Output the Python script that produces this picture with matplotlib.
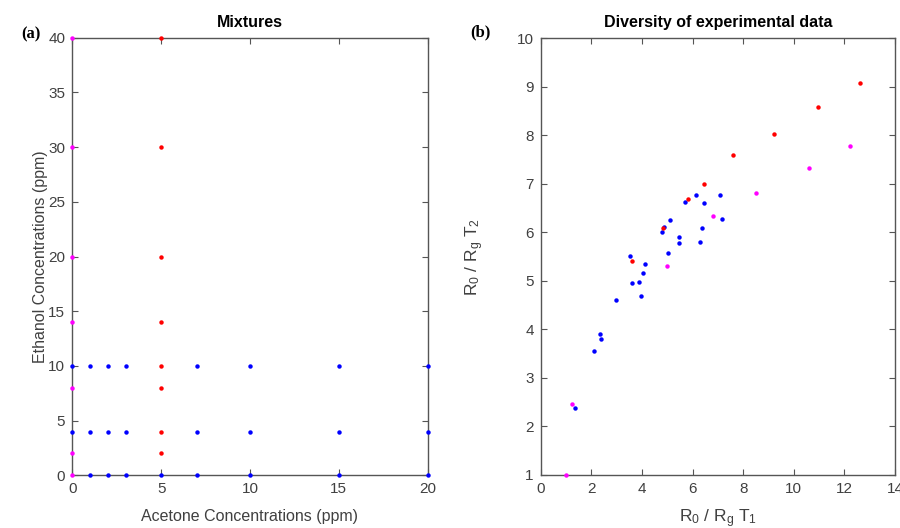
import matplotlib.pyplot as plt

plt.rcParams['font.family'] = ['Liberation Sans', 'DejaVu Sans']
plt.rcParams['mathtext.default'] = 'regular'

BLUE = '#0000ff'
RED = '#ff0000'
MAGENTA = '#ff00ff'
GRAY = '#404040'

# (a) mixture grid: acetone vs ethanol concentrations (ppm)
mix_blue_x = [0, 1, 2, 3, 7, 10, 15, 20,
              0, 1, 2, 3, 7, 10, 15, 20,
              1, 2, 3, 5, 7, 10, 15, 20]
mix_blue_y = [10, 10, 10, 10, 10, 10, 10, 10,
              4, 4, 4, 4, 4, 4, 4, 4,
              0, 0, 0, 0, 0, 0, 0, 0]
mix_red_x = [5, 5, 5, 5, 5, 5, 5, 5]
mix_red_y = [40, 30, 20, 14, 10, 8, 4, 2]
mix_mag_x = [0, 0, 0, 0, 0, 0, 0]
mix_mag_y = [40, 30, 20, 14, 8, 2, 0]

# (b) diversity of experimental data
div_blue_x = [6.12, 7.07, 5.71, 6.45, 5.12, 7.15, 4.86, 4.81, 6.38, 5.45,
              5.48, 6.28, 5.02, 3.54, 4.13, 4.03, 3.61, 3.87, 3.95, 2.96,
              2.33, 2.37, 2.09, 1.36]
div_blue_y = [6.78, 6.78, 6.63, 6.61, 6.26, 6.28, 6.11, 6.01, 6.08, 5.91,
              5.78, 5.80, 5.58, 5.52, 5.35, 5.17, 4.95, 4.97, 4.69, 4.61,
              3.91, 3.80, 3.56, 2.39]
div_red_x = [12.62, 10.94, 9.22, 7.60, 6.47, 5.83, 4.83, 3.61]
div_red_y = [9.08, 8.59, 8.03, 7.60, 7.00, 6.69, 6.08, 5.41]
div_mag_x = [12.22, 10.59, 8.49, 6.82, 4.99, 1.24, 0.99]
div_mag_y = [7.77, 7.32, 6.82, 6.34, 5.31, 2.46, 1.00]

fig = plt.figure(figsize=(9, 5.28), dpi=100)
ax1 = fig.add_axes([0.0803, 0.0998, 0.3949, 0.8288])
ax2 = fig.add_axes([0.6008, 0.1004, 0.3937, 0.8271])


def style(ax):
    for s in ax.spines.values():
        s.set_color('#555555')
        s.set_linewidth(1.0)
    ax.tick_params(direction='in', top=True, right=True, length=4,
                   width=0.8, color='#555555', labelcolor=GRAY,
                   labelsize=11, pad=5)


def dots(ax, x, y, c):
    ax.plot(x, y, 'o', color=c, markersize=3.2, markeredgewidth=0,
            linestyle='none', clip_on=False, zorder=5)


dots(ax1, mix_blue_x, mix_blue_y, BLUE)
dots(ax1, mix_red_x, mix_red_y, RED)
dots(ax1, mix_mag_x, mix_mag_y, MAGENTA)
ax1.set_xlim(0, 20)
ax1.set_ylim(0, 40)
ax1.set_xticks(range(0, 21, 5))
ax1.set_yticks(range(0, 41, 5))
ax1.set_xlabel('Acetone Concentrations (ppm)', fontsize=11.5, color=GRAY,
               labelpad=9)
ax1.set_ylabel('Ethanol Concentrations (ppm)', fontsize=11.5, color=GRAY,
               labelpad=0)
ax1.set_title('Mixtures', fontsize=11.5, fontweight='bold', pad=8)
style(ax1)

dots(ax2, div_blue_x, div_blue_y, BLUE)
dots(ax2, div_red_x, div_red_y, RED)
dots(ax2, div_mag_x, div_mag_y, MAGENTA)
ax2.set_xlim(0, 14)
ax2.set_ylim(1, 10)
ax2.set_xticks(range(0, 15, 2))
ax2.set_yticks(range(1, 11))
ax2.set_xlabel('R$_0$ / R$_g$ T$_1$', fontsize=12.5, color=GRAY,
               labelpad=8)
ax2.set_ylabel('R$_0$ / R$_g$ T$_2$', fontsize=12.5, color=GRAY,
               labelpad=22)
ax2.set_title('Diversity of experimental data', fontsize=11.5,
              fontweight='bold', pad=8)
style(ax2)

fig.text(0.034, 0.935, '(a)', fontsize=12, fontweight='bold',
         family='Liberation Serif', ha='center', va='center')
fig.text(0.534, 0.938, '(b)', fontsize=12, fontweight='bold',
         family='Liberation Serif', ha='center', va='center')

fig.savefig('out.png', dpi=100)
